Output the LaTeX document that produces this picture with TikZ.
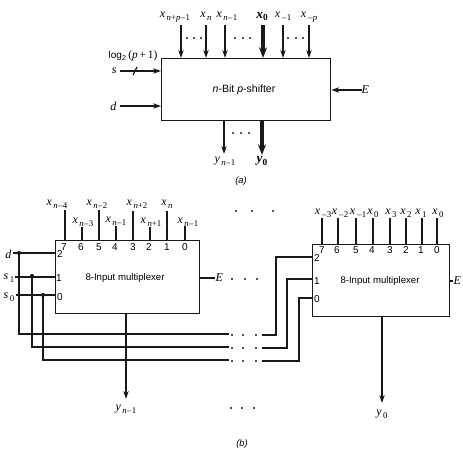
\documentclass[tikz,border=0pt]{standalone}
\usepackage{fontspec}
\setmainfont{Liberation Sans}
\newfontfamily\labserif{Liberation Serif}
\usetikzlibrary{arrows.meta}
\newcommand{\vsym}[2]{\mbox{{\labserif\itshape #1}\raisebox{-0.45ex}[0pt][0pt]{\fontsize{6.6}{7}\labserif\,#2}}}
\newcommand{\bsym}[2]{\mbox{{\fontsize{10}{10}\labserif\bfseries\itshape #1}\raisebox{-0.45ex}[0pt][0pt]{\fontsize{7}{7}\labserif\bfseries #2}}}
\newcommand{\mns}{\hspace{0.3pt}\textendash\hspace{0.3pt}}
\newcommand{\nn}{\textit{n}}
\newcommand{\pp}{\textit{p}}
\tikzset{
  x=0.75pt,y=-0.75pt,
  wire/.style={line width=0.95pt,black!90},
  inarrow/.style={wire,-{Stealth[length=6pt,width=4pt]}},
  thickarrow/.style={line width=2.3pt,black!90,-{Stealth[length=8pt,width=6pt]}},
  block/.style={draw=black!90,line width=0.95pt,rectangle,inner sep=0pt,anchor=north west},
  lab/.style={inner sep=0pt,font=\fontsize{9}{10}\selectfont},
  pin/.style={inner sep=0pt,font=\fontsize{7.5}{9}\selectfont},
  title/.style={inner sep=0pt,font=\fontsize{7.2}{9}\selectfont},
  caption/.style={inner sep=0pt,font=\fontsize{7}{9}\selectfont\itshape},
  dotmark/.style={circle,fill=black!90,inner sep=0pt,minimum size=1.7pt},
  joint/.style={circle,fill=black,inner sep=0pt,minimum size=3pt},
}
\begin{document}
\begin{tikzpicture}
\useasboundingbox (0,0) rectangle (463,449);
% ---------- (a) ----------
\node[block,minimum width=126.75pt,minimum height=46.5pt] (A) at (161,58) {};
\node[title,font=\fontsize{7.9}{9}\selectfont] (Atext) at (244,90) {\textit{n}-Bit \textit{p}-shifter};
\foreach \nm/\px/\py/\tx/\sb in {
  a1/175/15/x/{\nn+\pp\mns1}, a2/206/15/x/\nn, a3/227/15/x/{\nn\mns1},
  a5/283/15/x/{\mns1}, a6/309/15/x/{\mns\pp}}{
  \node[lab] (\nm) at (\px,\py) {\vsym{\tx}{\sb}};
}
\node[lab] (a4) at (262,15) {\bsym{x}{0}};
\foreach \nm/\px in {a1/181,a2/206,a3/225,a5/283,a6/309}{
  \coordinate (\nm t) at (\px,25);
  \draw[inarrow] (\nm t) -- (\nm t |- A.north);
}
\coordinate (a4t) at (263,25);
\draw[thickarrow] (a4t) -- (a4t |- A.north);
\foreach \px/\py in {187/38,194/38,201/38,235/38,243/38,250/38,288/38,296/38,303/38,233/133,241/133,249/133}{
  \node[dotmark] at (\px,\py) {};
}
\node[lab] (logl) at (133,56) {\fontsize{7.5}{9}\selectfont log\textsubscript{2}\,{\labserif\fontsize{8.5}{9}\selectfont(\textit{p}\,+\,1)}};
\node[lab] (sa) at (115,71) {\vsym{s}{}};
\node[lab] (da) at (114,106) {\vsym{d}{}};
\node[lab] (Ea) at (366,90) {\vsym{E}{}};
\coordinate (sas) at (120,71);
\coordinate (das) at (120,106);
\coordinate (Eas) at (362,90);
\draw[inarrow] (sas) -- (sas -| A.west);
\draw[wire] (133,75) -- (137,67);
\draw[inarrow] (das) -- (das -| A.west);
\draw[inarrow] (Eas) -- (Eas -| A.east);
\coordinate (yab) at (224,154);
\coordinate (yat) at (262,155);
\draw[inarrow] (yab |- A.south) -- (yab);
\draw[thickarrow] (yat |- A.south) -- (yat);
\node[lab] (ya) at (225,161) {\vsym{y}{\nn\mns1}};
\node[lab] (yb) at (262,161) {\bsym{y}{0}};
\node[caption] (capa) at (241,181) {(a)};
% ---------- (b) left mux ----------
\node[block,minimum width=108pt,minimum height=54.75pt] (M) at (55,240) {};
\node[title] (Mtext) at (125,278) {8-Input multiplexer};
\foreach \nm/\lx/\ly/\sb/\wx/\wy/\num/\nx in {
  b1/57/203/{\nn\mns4}/65/210/7/64,
  b2/83/221/{\nn\mns3}/82/227/6/81,
  b3/97/203/{\nn\mns2}/99/210/5/99,
  b4/116/220/{\nn\mns1}/116/226/4/115,
  b5/137/203/{\nn+2}/133/211/3/133,
  b6/151/221/{\nn+1}/150/227/2/149,
  b7/167/203/{\nn}/167/211/1/167,
  b8/188/221/{\nn\mns1}/185/226/0/185}{
  \node[lab] (\nm) at (\lx,\ly) {\vsym{x}{\sb}};
  \coordinate (\nm t) at (\wx,\wy);
  \draw[wire] (\nm t) -- (\nm t |- M.north);
  \node[pin] (\nm n) at (\nx,247) {\num};
}
\node[pin] (m2) at (60,254) {2};
\node[pin] (m1) at (59,278) {1};
\node[pin] (m0) at (60,297) {0};
\node[lab] (dl) at (9,254) {\vsym{d}{}};
\node[lab] (s1) at (9,277) {\vsym{s}{1}};
\node[lab] (s0) at (9,296) {\vsym{s}{0}};
\node[joint] (jd) at (19,253) {};
\node[joint] (j1) at (32,276) {};
\node[joint] (j0) at (43,295) {};
\coordinate (dls) at (13,253);
\coordinate (s1s) at (15,277);
\coordinate (s0s) at (16,295);
\draw[wire] (dls) -- (dls -| M.west);
\draw[wire] (s1s) -- (s1s -| M.west);
\draw[wire] (s0s) -- (s0s -| M.west);
\coordinate (bd) at (229,334);
\coordinate (b1e) at (229,347);
\coordinate (b0e) at (229,360);
\draw[wire] (jd) |- (bd);
\draw[wire] (j1) |- (b1e);
\draw[wire] (j0) |- (b0e);
\node[lab] (El) at (220,278) {\vsym{E}{}};
\draw[wire] (M.east |- El) -- (El.west);
\coordinate (yl) at (126,399);
\draw[inarrow] (yl |- M.south) -- (yl);
\node[lab] (yn) at (126,409) {\vsym{y}{\nn\mns1}};
% ---------- (b) right mux ----------
\node[block,minimum width=102.75pt,minimum height=54pt] (R) at (312,244) {};
\node[title] (Rtext) at (380,281) {8-Input multiplexer};
\foreach \nm/\lx/\sb/\wx/\num/\nx in {
  c1/323/{\mns3}/322/7/322,
  c2/340/{\mns2}/338/6/337,
  c3/358/{\mns1}/356/5/356,
  c4/373/{0}/373/4/372,
  c5/391/{3}/390/3/390,
  c6/406/{2}/406/2/406,
  c7/421/{1}/422/1/421,
  c8/438/{0}/437/0/437}{
  \node[lab] (\nm) at (\lx,212) {\vsym{x}{\sb}};
  \coordinate (\nm t) at (\wx,218);
  \draw[wire] (\nm t) -- (\nm t |- R.north);
  \node[pin] (\nm n) at (\nx,250) {\num};
}
\node[pin] (r2) at (317,258) {2};
\node[pin] (r1) at (317,281) {1};
\node[pin] (r0) at (317,299) {0};
\coordinate (rs2) at (262,335);
\coordinate (rs1) at (262,348);
\coordinate (rs0) at (262,361);
\coordinate (re2) at (312,257);
\coordinate (re1) at (312,279);
\coordinate (re0) at (312,298);
\draw[wire] (rs2) -| (276,257) -- (re2);
\draw[wire] (rs1) -| (287,279) -- (re1);
\draw[wire] (rs0) -| (299,298) -- (re0);
\node[lab] (Er) at (458,281) {\vsym{E}{}};
\draw[wire] (R.east |- Er) -- (Er.west);
\coordinate (yr) at (382,403);
\draw[inarrow] (yr |- R.south) -- (yr);
\node[lab] (y0) at (382,414) {\vsym{y}{0}};
% dots
\foreach \px/\py in {236/211,252/211,273/211, 232/279,245/279,257/279,
  232/335,243/335,256/335, 232/348,243/348,256/348, 232/361,243/361,256/361,
  231/408,242/408,254/408}{
  \node[dotmark] at (\px,\py) {};
}
\node[caption] (capb) at (242,444) {(b)};
\end{tikzpicture}
\end{document}
